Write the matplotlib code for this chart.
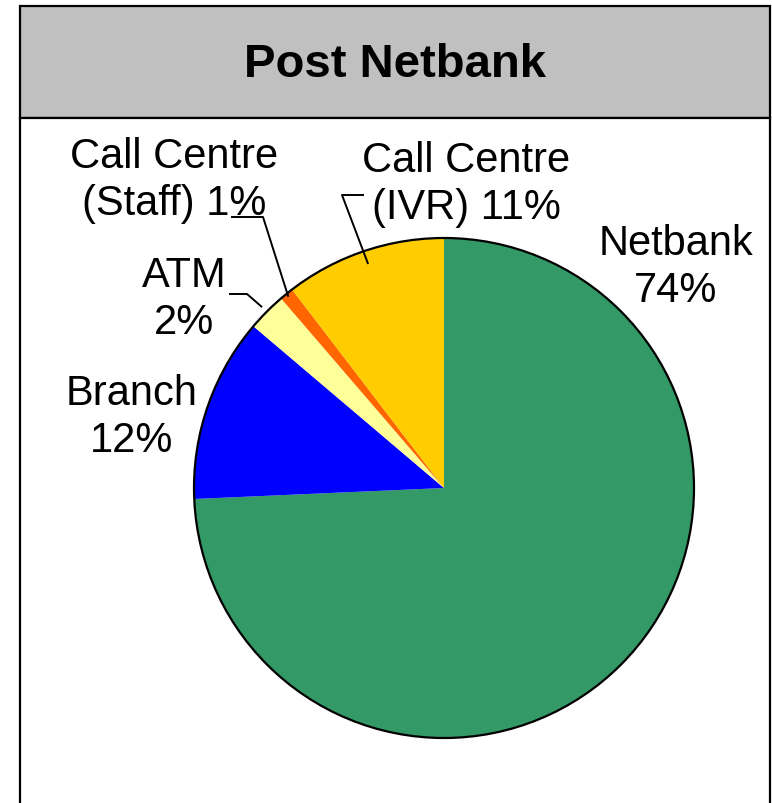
import numpy as np
import matplotlib.pyplot as plt
from matplotlib.patches import Rectangle, Circle

plt.rcParams['font.family'] = ['Liberation Sans', 'DejaVu Sans']

# data (clockwise from 12 o'clock)
channels = ["Netbank", "Branch", "ATM", "Call Centre\n(Staff)", "Call Centre\n(IVR)"]
shares = [74.3, 11.9, 2.5, 0.9, 10.4]
shown_pct = ["74%", "12%", "2%", "1%", "11%"]
colors = ["#339966", "#0000FF", "#FFFF99", "#FF6600", "#FFCC00"]

W, H = 772, 804
fig = plt.figure(figsize=(W / 100, H / 100), dpi=100)
ax = fig.add_axes([0, 0, 1, 1])

# box: header + body (pixel coords, y down)
ax.add_patch(Rectangle((20, 7), 750, 112, facecolor="#C0C0C0", edgecolor="black", lw=1.6, zorder=1))
ax.add_patch(Rectangle((20, 119), 750, 720, facecolor="white", edgecolor="black", lw=1.6, zorder=1))
ax.text(395, 65, "Post Netbank", ha="center", va="center", fontsize=34, fontweight="bold")

# y axis is inverted, so counterclock in data = clockwise on screen
cx, cy, R = 444, 489, 250
wedges, _ = ax.pie(shares, colors=colors, startangle=-90, counterclock=True,
                   center=(cx, cy), radius=R, frame=True,
                   wedgeprops=dict(edgecolor="none", zorder=2))
ax.add_patch(Circle((cx, cy), R, facecolor="none", edgecolor="black", lw=1.6, zorder=3))

# labels: text position (last-line baseline), elbow, radius factor of the anchor on the wedge
label_pos = [(676, 302), (132, 452), (184, 334), (174, 215), (466, 219)]
elbows = [None, None, [(230, 295), (247, 295)], [(232, 218), (263, 218)], [(363, 196), (342, 196)]]
anchor_r = [None, None, 1.03, 0.99, 0.95]

for i, w in enumerate(wedges):
    txt = channels[i] + (" " if "\n" in channels[i] else "\n") + shown_pct[i]
    ax.text(*label_pos[i], txt, ha="center", va="baseline", fontsize=30,
            linespacing=1.22, zorder=4)
    if elbows[i] is not None:
        mid = np.deg2rad((w.theta1 + w.theta2) / 2)
        ax_pt = (cx + R * anchor_r[i] * np.cos(mid), cy + R * anchor_r[i] * np.sin(mid))
        pts = elbows[i] + [ax_pt]
        ax.plot([p[0] for p in pts], [p[1] for p in pts], color="black", lw=1.4, zorder=4)

ax.set_xlim(0, W)
ax.set_ylim(H, 0)
ax.set_aspect("auto")
ax.axis("off")

fig.savefig("out.png", dpi=100)
